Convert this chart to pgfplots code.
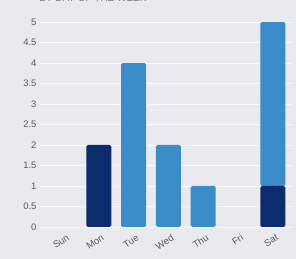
\documentclass[border=0pt]{standalone}
\usepackage{pgfplots}
\pgfplotsset{compat=1.18}
\usepackage{fontspec}
\setmainfont{Liberation Sans}
\definecolor{bg}{HTML}{EAEAEE}
\definecolor{darkbar}{HTML}{0C2D6B}
\definecolor{lightbar}{HTML}{3A8DC9}
\definecolor{txt}{HTML}{5A5A5A}
\begin{document}
\begin{tikzpicture}[x=1bp,y=1bp]
\fill[bg] (-40,-28) rectangle (256,231);
\useasboundingbox (-40,-28) rectangle (256,231);
\node[anchor=base east, text=txt!80, font=\fontsize{10}{10}\selectfont] at (110,229.5) {BY DAY OF THE WEEK};
\begin{axis}[at={(0,0)}, anchor=south west, scale only axis, width=252bp, height=213bp,
 xmin=-0.69, xmax=6.55, ymin=-0.1, ymax=5.1,
 ybar stacked, bar width=25bp,
 axis line style={draw=none}, tick style={draw=none},
 ymajorgrids, grid style={white!75!bg, line width=0.8pt},
 ytick={0,0.5,...,5},
 xtick={0,...,6}, xticklabels={Sun,Mon,Tue,Wed,Thu,Fri,Sat},
 xticklabel style={rotate=33, anchor=north east, font=\fontsize{9.5}{10}\selectfont, text=txt, inner sep=1.5pt, yshift=-2bp, xshift=2bp},
 yticklabel style={font=\fontsize{9.5}{10}\selectfont, text=txt},
 /pgf/number format/assume math mode=true,
]
\addplot[fill=darkbar, draw=none, rounded corners=1.5bp] coordinates {(0,0) (1,2) (2,0) (3,0) (4,0) (5,0) (6,1)};
\addplot[fill=lightbar, draw=none, rounded corners=1.5bp] coordinates {(0,0) (1,0) (2,4) (3,2) (4,1) (5,0) (6,4)};
\end{axis}
\end{tikzpicture}
\end{document}
